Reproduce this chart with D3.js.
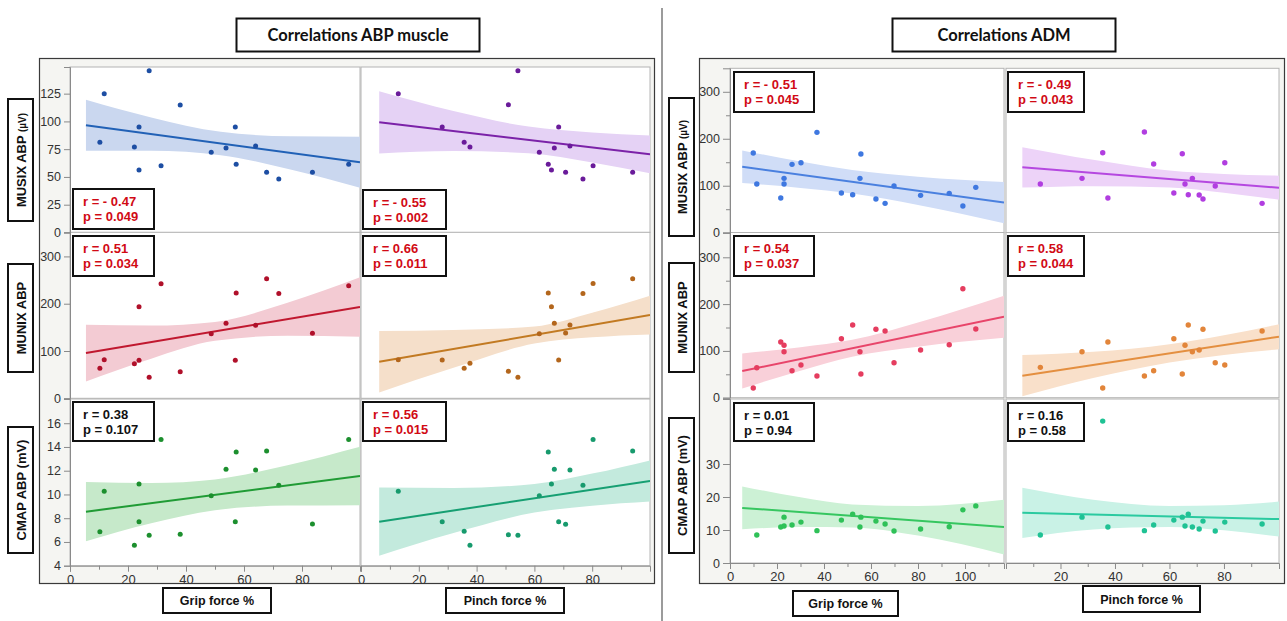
<!DOCTYPE html>
<html><head><meta charset="utf-8">
<script src="https://cdn.jsdelivr.net/npm/d3@7"></script>
<style>body{margin:0;background:#fff}svg{display:block}</style>
</head><body>
<svg id="c" width="1287" height="621"></svg>
<script>
// ---------- DATA ----------
// ABP cohort, grip force %
const abpGripX      = [10.3, 11.8, 22.2, 23.8, 23.8, 27.3, 31.4, 38.0, 48.7, 53.8, 57.0, 57.3, 64.0, 67.8, 72.0, 83.6, 96.1];
const abpMusixGrip  = [81.2, 125, 77, 95, 56.3, 145.7, 60.1, 114.8, 72.2, 76.1, 95, 61.4, 77.9, 54.2, 48.2, 54.2, 61.4];
const abpMunixGrip  = [63.4, 81.6, 73.1, 193.5, 80.3, 44.4, 242.1, 56.2, 136.5, 158.5, 80.3, 222.5, 154.2, 252.7, 221.8, 137.3, 237.9];
const abpCmapGrip   = [6.86, 10.27, 5.72, 10.88, 7.71, 6.56, 14.62, 6.65, 9.9, 12.12, 7.71, 13.58, 12.06, 13.66, 10.77, 7.51, 14.62];
// ABP cohort, pinch force %
const abpPinchX     = [12.9, 28.1, 35.7, 37.7, 51.0, 54.3, 61.7, 64.8, 65.9, 66.9, 68.4, 70.8, 72.3, 76.8, 80.3, 94.0];
const abpMusixPinch = [125, 95, 81.2, 77, 115.1, 145.7, 72.2, 61.4, 56.3, 76.1, 95, 54.2, 77.9, 48.2, 60.1, 54.2];
const abpMunixPinch = [81.6, 80.9, 63.4, 73.9, 57, 44.4, 136.5, 222.5, 193.5, 158.5, 80.9, 138, 154.9, 221.8, 243, 252.7];
const abpCmapPinch  = [10.27, 7.71, 6.9, 5.72, 6.61, 6.56, 9.9, 13.58, 10.88, 12.12, 7.71, 7.49, 12.06, 10.77, 14.62, 13.66];
// ADM cohort, grip force %
const admGripX      = [9.9, 11.4, 21.6, 23.0, 23.0, 26.4, 30.2, 37.0, 47.4, 52.2, 55.3, 55.7, 62.1, 66.0, 69.8, 81.1, 93.3, 99.1, 104.6];
const admMusixGrip  = [169.6, 103.6, 73.8, 115.7, 103.6, 145.5, 148.9, 213.6, 84.5, 80.9, 115.7, 167.4, 71.7, 62.5, 99.4, 79.5, 83.8, 56.8, 96.6];
const admMunixGrip  = [20.7, 64.1, 119, 112, 98.3, 57.7, 69.9, 46.4, 126.1, 155.3, 98.3, 50.6, 146.2, 142.5, 74.8, 101.9, 113.2, 232.9, 146.8];
const admCmapGrip   = [43.0, 8.5, 10.9, 13.9, 11.2, 11.5, 12.4, 9.8, 13.0, 14.8, 10.9, 13.9, 12.7, 11.8, 9.7, 10.3, 11.0, 16.1, 17.3];
// ADM cohort, pinch force %
const admPinchX     = [12.6, 27.9, 35.5, 37.4, 50.8, 54.2, 61.6, 64.7, 65.7, 66.9, 68.4, 70.9, 72.3, 76.8, 80.3, 94.0];
const admMusixPinch = [103.6, 115.7, 170.2, 73.8, 214.3, 146.2, 84.5, 168.1, 103.6, 80.9, 115.7, 80.2, 71.7, 99.4, 148.9, 62.5];
const admMunixPinch = [64.9, 98.3, 20.7, 119, 46.4, 57.7, 126.1, 50.6, 112, 155.3, 98.3, 101.9, 146.2, 74.8, 69.9, 142.5];
const admCmapPinch  = [8.5, 13.9, 43.0, 10.9, 9.8, 11.5, 13.0, 13.9, 11.2, 14.8, 10.9, 10.3, 12.7, 9.7, 12.4, 11.8];

// fitted lines [xStart, yStart, xEnd, yEnd] and confidence-band half widths
const fitAbpMusixGrip  = [5.5, 96.5, 100, 63.2];
const bandAbpMusixGripX = [5.5, 28, 52, 76, 100],   bandAbpMusixGripH = [23, 15, 10.5, 15, 23];
const fitAbpMusixPinch = [6.3, 99.2, 100, 70.4];
const bandAbpMusixPinchX = [6.3, 32, 58, 80, 100], bandAbpMusixPinchH = [28, 18, 12, 13.5, 17];
const fitAbpMunixGrip  = [5.5, 95.7, 100, 192.9];
const bandAbpMunixGripX = [5.5, 28, 50, 75, 100],  bandAbpMunixGripH = [60, 35, 20, 35, 63];
const fitAbpMunixPinch = [6.3, 77.3, 100, 176];
const bandAbpMunixPinchX = [6.3, 32, 60, 80, 100], bandAbpMunixPinchH = [65, 40, 18, 26, 41];
const fitAbpCmapGrip   = [5.5, 8.55, 100, 11.56];
const bandAbpCmapGripX = [5.5, 28, 50, 75, 100],   bandAbpCmapGripH = [2.5, 1.7, 1.3, 1.7, 2.46];
const fitAbpCmapPinch  = [6.3, 7.71, 100, 11.14];
const bandAbpCmapPinchX = [6.3, 32, 60, 80, 100],  bandAbpCmapPinchH = [2.87, 1.9, 1.2, 1.35, 1.73];
const fitAdmMusixGrip  = [5.2, 140.4, 116.6, 64.1];
const bandAdmMusixGripX = [5.2, 30, 52, 80, 116.6], bandAdmMusixGripH = [34.7, 28, 25, 30, 44];
const fitAdmMusixPinch = [6.0, 139.1, 100.2, 95.7];
const bandAdmMusixPinchX = [6, 32, 60, 80, 100.2], bandAdmMusixPinchH = [43, 28, 18, 20, 25.5];
const fitAdmMunixGrip  = [5.2, 57, 116.6, 173];
const bandAdmMunixGripX = [5.2, 30, 52, 80, 116.6], bandAdmMunixGripH = [37.4, 25, 18, 26, 45];
const fitAdmMunixPinch = [6.0, 47, 100.2, 130.3];
const bandAdmMunixPinchX = [6, 32, 60, 80, 100.2], bandAdmMunixPinchH = [44, 28, 19.5, 21, 26.7];
const fitAdmCmapGrip   = [5.2, 16.7, 116.6, 10.9];
const bandAdmCmapGripX = [5.2, 30, 52, 80, 116.6], bandAdmCmapGripH = [6.5, 4.5, 3.5, 4.5, 8.3];
const fitAdmCmapPinch  = [6.0, 15.2, 100.2, 13.3];
const bandAdmCmapPinchX = [6, 32, 60, 80, 100.2], bandAdmCmapPinchH = [7.6, 4.5, 3.2, 3.8, 5.3];

// statistics labels
const statR = ["r = - 0.47","r = - 0.55","r = 0.51","r = 0.66","r = 0.38","r = 0.56",
               "r = - 0.51","r = - 0.49","r = 0.54","r = 0.58","r = 0.01","r = 0.16"];
const statP = ["p = 0.049","p = 0.002","p = 0.034","p = 0.011","p = 0.107","p = 0.015",
               "p = 0.045","p = 0.043","p = 0.037","p = 0.044","p = 0.94","p = 0.58"];
const statSig = [1,1,1,1,0,1, 1,1,1,1,0,0];

// tick labels
const ticksMusixAbp = [0, 25, 50, 75, 100, 125];
const ticksMunix = [0, 100, 200, 300];
const ticksCmapAbp = [4, 6, 8, 10, 12, 14, 16];
const ticksCmapAdm = [0, 10, 20, 30];
const ticksForce = [0, 20, 40, 60, 80];
const ticksForceAdmGrip = [0, 20, 40, 60, 80, 100];
const ticksForceAdmPinch = [20, 40, 60, 80];

const titles = ["Correlations ABP muscle", "Correlations ADM"];
const yLabels = ["MUSIX ABP", "MUNIX ABP", "CMAP ABP (mV)"];
const xLabels = ["Grip force %", "Pinch force %"];

// ---------- DRAWING ----------
const svg = d3.select("#c");
const FONT = "'Liberation Sans', Arial, sans-serif";

// divider
svg.append("line").attr("x1",662).attr("x2",662).attr("y1",8).attr("y2",621)
  .attr("stroke","#7a7a7a").attr("stroke-width",1.5);

// outer frames
svg.append("rect").attr("x",39.5).attr("y",58.5).attr("width",615).attr("height",525)
  .attr("fill","#f5f5f2").attr("stroke","#3a3a3a").attr("stroke-width",1.2);
svg.append("rect").attr("x",699.5).attr("y",58.5).attr("width",585).attr("height",525)
  .attr("fill","#f5f5f2").attr("stroke","#3a3a3a").attr("stroke-width",1.2);

// title boxes
[[236.5,243,titles[0]],[892.5,223,titles[1]]].forEach(([x,w,t])=>{
  svg.append("rect").attr("x",x).attr("y",18.5).attr("width",w).attr("height",33)
    .attr("fill","#fff").attr("stroke","#111").attr("stroke-width",2);
  svg.append("text").attr("x",x+w/2).attr("y",41).attr("text-anchor","middle")
    .attr("font-family","Lato, 'Open Sans', sans-serif").attr("font-weight","bold")
    .attr("font-size",16.5).attr("fill","#111").text(t);
});

let clipId = 0;
let statIdx = 0;
function drawCell(c){
  const x = d3.scaleLinear().domain(c.xd).range(c.xr);
  const y = d3.scaleLinear().domain(c.yd).range(c.yr);
  const id = "cl"+(clipId++);
  svg.append("clipPath").attr("id",id).append("rect")
    .attr("x",c.xr[0]).attr("y",c.yr[1]).attr("width",c.xr[1]-c.xr[0]).attr("height",c.yr[0]-c.yr[1]);
  svg.append("rect").attr("x",c.xr[0]).attr("y",c.yr[1]).attr("width",c.xr[1]-c.xr[0]).attr("height",c.yr[0]-c.yr[1])
    .attr("fill","#fff").attr("stroke","#b4b4b4").attr("stroke-width",1);
  const g = svg.append("g").attr("clip-path",`url(#${id})`);
  const fx = d3.scaleLinear().domain([c.fit[0],c.fit[2]]).range([c.fit[1],c.fit[3]]);
  const area = d3.area().x(d=>x(d[0])).y0(d=>y(fx(d[0])-d[1])).y1(d=>y(fx(d[0])+d[1])).curve(d3.curveMonotoneX);
  g.append("path").datum(d3.zip(c.bx,c.bh)).attr("d",area).attr("fill",c.band).attr("stroke","none");
  g.append("line").attr("x1",x(c.fit[0])).attr("y1",y(c.fit[1])).attr("x2",x(c.fit[2])).attr("y2",y(c.fit[3]))
    .attr("stroke",c.line).attr("stroke-width",2);
  g.selectAll("circle.p").data(d3.zip(c.xs,c.ys)).join("circle").attr("class","p")
    .attr("cx",d=>x(d[0])).attr("cy",d=>y(d[1])).attr("r",c.r||2.5).attr("fill",c.dot);
  // stats box
  const s = c.stat;
  svg.append("rect").attr("x",s[0]).attr("y",s[1]).attr("width",s[2]).attr("height",s[3])
    .attr("fill","#fff").attr("stroke","#111").attr("stroke-width",2);
  const col = statSig[statIdx] ? "#d10a14" : "#111";
  svg.append("text").attr("x",s[0]+10).attr("y",s[1]+17).attr("font-family",FONT).attr("font-weight","bold")
    .attr("font-size",13).attr("fill",col).text(statR[statIdx]);
  svg.append("text").attr("x",s[0]+10).attr("y",s[1]+32).attr("font-family",FONT).attr("font-weight","bold")
    .attr("font-size",13).attr("fill",col).text(statP[statIdx]);
  statIdx++;
  return {x,y};
}

function yAxis(scale, left, ticks, minor, size){
  const g = svg.append("g").attr("transform",`translate(${left},0)`)
    .call(d3.axisLeft(scale).tickValues(ticks).tickSize(size).tickPadding(3).tickFormat(d3.format("d")));
  g.select(".domain").attr("stroke","#8a8a8a");
  g.selectAll(".tick line").attr("stroke","#8a8a8a");
  g.selectAll("text").attr("font-family",FONT).attr("font-size",12.5).attr("fill","#333");
  if (minor) {
    const m = svg.append("g").attr("transform",`translate(${left},0)`)
      .call(d3.axisLeft(scale).tickValues(minor).tickSize(4).tickFormat(""));
    m.select(".domain").remove(); m.selectAll("line").attr("stroke","#8a8a8a");
  }
}
function xAxis(scale, bottom, ticks, minor){
  const g = svg.append("g").attr("transform",`translate(0,${bottom})`)
    .call(d3.axisBottom(scale).tickValues(ticks).tickSize(6).tickPadding(3).tickFormat(d3.format("d")));
  g.select(".domain").attr("stroke","#8a8a8a");
  g.selectAll(".tick line").attr("stroke","#8a8a8a");
  g.selectAll("text").attr("font-family",FONT).attr("font-size",13).attr("fill","#333");
  const m = svg.append("g").attr("transform",`translate(0,${bottom})`)
    .call(d3.axisBottom(scale).tickValues(minor).tickSize(4).tickFormat(""));
  m.select(".domain").remove(); m.selectAll("line").attr("stroke","#8a8a8a");
}

// ----- left panel (ABP) -----
const Lc = [[70,360],[361,650]];
const Lr = [[232.45,67],[398.3,232.3],[565.7,399]];
const Ly = [[0,149],[0,351],[4,18.04]];
const Lx = [0,100];
const L = [];
L.push(drawCell({xr:Lc[0],yr:Lr[0],xd:Lx,yd:Ly[0],xs:abpGripX,ys:abpMusixGrip,fit:fitAbpMusixGrip,bx:bandAbpMusixGripX,bh:bandAbpMusixGripH,
  dot:"#1d4ea3",line:"#2161b6",band:"#cad7ef",stat:[73,189,81,40]}));
L.push(drawCell({xr:Lc[1],yr:Lr[0],xd:Lx,yd:Ly[0],xs:abpPinchX,ys:abpMusixPinch,fit:fitAbpMusixPinch,bx:bandAbpMusixPinchX,bh:bandAbpMusixPinchH,
  dot:"#6a1b9a",line:"#7b22a8",band:"#e5d2f5",stat:[363,190,83,39]}));
L.push(drawCell({xr:Lc[0],yr:Lr[1],xd:Lx,yd:Ly[1],xs:abpGripX,ys:abpMunixGrip,fit:fitAbpMunixGrip,bx:bandAbpMunixGripX,bh:bandAbpMunixGripH,
  dot:"#b0102a",line:"#c0182f",band:"#f3cbd3",stat:[73,236,81,40]}));
L.push(drawCell({xr:Lc[1],yr:Lr[1],xd:Lx,yd:Ly[1],xs:abpPinchX,ys:abpMunixPinch,fit:fitAbpMunixPinch,bx:bandAbpMunixPinchX,bh:bandAbpMunixPinchH,
  dot:"#b3661c",line:"#c27a22",band:"#f5dfca",stat:[363,236,83,40]}));
L.push(drawCell({xr:Lc[0],yr:Lr[2],xd:Lx,yd:Ly[2],xs:abpGripX,ys:abpCmapGrip,fit:fitAbpCmapGrip,bx:bandAbpCmapGripX,bh:bandAbpCmapGripH,
  dot:"#1c8f2e",line:"#209b35",band:"#c6e9ca",stat:[73,402,81,39]}));
L.push(drawCell({xr:Lc[1],yr:Lr[2],xd:Lx,yd:Ly[2],xs:abpPinchX,ys:abpCmapPinch,fit:fitAbpCmapPinch,bx:bandAbpCmapPinchX,bh:bandAbpCmapPinchH,
  dot:"#179a6d",line:"#169f72",band:"#c3eadd",stat:[363,402,83,39]}));
yAxis(L[0].y,70,ticksMusixAbp,null,6);
yAxis(L[2].y,70,ticksMunix,null,6);
yAxis(L[4].y,70,ticksCmapAbp,null,6);
xAxis(L[4].x,565.7,ticksForce,[10,30,50,70,90]);
xAxis(L[5].x,565.7,ticksForce,[10,30,50,70,90]);

// ----- right panel (ADM) -----
const Rc = [[730,1004],[1006,1279]];
const Rr = [[232.7,68.3],[397.7,232.5],[563,399]];
const Ry = [[0,350],[0,353],[0,49.7]];
const RxG = [0,116.6], RxP = [0,100.2];
const R = [];
R.push(drawCell({xr:Rc[0],yr:Rr[0],xd:RxG,yd:Ry[0],xs:admGripX,ys:admMusixGrip,fit:fitAdmMusixGrip,bx:bandAdmMusixGripX,bh:bandAdmMusixGripH,
  dot:"#3f78e0",line:"#4a80df",band:"#d0ddf7",stat:[734,72,80,40],r:2.7}));
R.push(drawCell({xr:Rc[1],yr:Rr[0],xd:RxP,yd:Ry[0],xs:admPinchX,ys:admMusixPinch,fit:fitAdmMusixPinch,bx:bandAdmMusixPinchX,bh:bandAdmMusixPinchH,
  dot:"#b13ee0",line:"#b548e0",band:"#edd3f8",stat:[1008,72,76,40],r:2.7}));
R.push(drawCell({xr:Rc[0],yr:Rr[1],xd:RxG,yd:Ry[1],xs:admGripX,ys:admMunixGrip,fit:fitAdmMunixGrip,bx:bandAdmMunixGripX,bh:bandAdmMunixGripH,
  dot:"#e53d5f",line:"#e8456a",band:"#f9d0d9",stat:[734,236,80,40],r:2.7}));
R.push(drawCell({xr:Rc[1],yr:Rr[1],xd:RxP,yd:Ry[1],xs:admPinchX,ys:admMunixPinch,fit:fitAdmMunixPinch,bx:bandAdmMunixPinchX,bh:bandAdmMunixPinchH,
  dot:"#e2853a",line:"#e48f40",band:"#f9e0ca",stat:[1008,236,76,40],r:2.7}));
R.push(drawCell({xr:Rc[0],yr:Rr[2],xd:RxG,yd:Ry[2],xs:admGripX,ys:admCmapGrip,fit:fitAdmCmapGrip,bx:bandAdmCmapGripX,bh:bandAdmCmapGripH,
  dot:"#2fc158",line:"#36c660",band:"#ccf1d5",stat:[734,403,80,38],r:2.7}));
R.push(drawCell({xr:Rc[1],yr:Rr[2],xd:RxP,yd:Ry[2],xs:admPinchX,ys:admCmapPinch,fit:fitAdmCmapPinch,bx:bandAdmCmapPinchX,bh:bandAdmCmapPinchH,
  dot:"#1fc294",line:"#2bcaa0",band:"#c9f2e6",stat:[1008,403,76,38],r:2.7}));
yAxis(R[0].y,730,ticksMunix,[50,150,250],7);
yAxis(R[2].y,730,ticksMunix,[50,150,250],7);
yAxis(R[4].y,730,ticksCmapAdm,null,7);
xAxis(R[4].x,563,ticksForceAdmGrip,[10,30,50,70,90,110]);
xAxis(R[5].x,563,ticksForceAdmPinch,[10,30,50,70,90]);

// ----- y label boxes -----
function yLabelBox(x,y,w,h,main,unit,unitSize){
  svg.append("rect").attr("x",x).attr("y",y).attr("width",w).attr("height",h)
    .attr("fill","#fff").attr("stroke","#111").attr("stroke-width",2);
  const t = svg.append("text").attr("transform",`translate(${x+w/2+5},${y+h/2}) rotate(-90)`)
    .attr("text-anchor","middle").attr("font-family",FONT).attr("font-weight","bold")
    .attr("font-size",13).attr("fill","#111");
  t.append("tspan").text(main);
  if (unit) t.append("tspan").attr("font-size",unitSize).text(unit);
}
yLabelBox(8,99,25,122,"MUSIX ABP "," (µV)",10);
yLabelBox(8,264,25,108,yLabels[1]);
yLabelBox(8,427,25,126,yLabels[2]);
yLabelBox(669,98,25,138,"MUSIX ABP "," (µV)",10);
yLabelBox(669,263,25,109,yLabels[1]);
yLabelBox(669,418,25,135,yLabels[2]);

// ----- x label boxes -----
function xLabelBox(x,y,w,h,label){
  svg.append("rect").attr("x",x).attr("y",y).attr("width",w).attr("height",h)
    .attr("fill","#fff").attr("stroke","#111").attr("stroke-width",2);
  svg.append("text").attr("x",x+w/2).attr("y",y+h/2+4.5).attr("text-anchor","middle")
    .attr("font-family",FONT).attr("font-weight","bold").attr("font-size",12.5).attr("fill","#111").text(label);
}
xLabelBox(163,588,108,25,xLabels[0]);
xLabelBox(446,588,118,25,xLabels[1]);
xLabelBox(793,591,105,25,xLabels[0]);
xLabelBox(1083,586,117,26,xLabels[1]);
</script>
</body></html>
